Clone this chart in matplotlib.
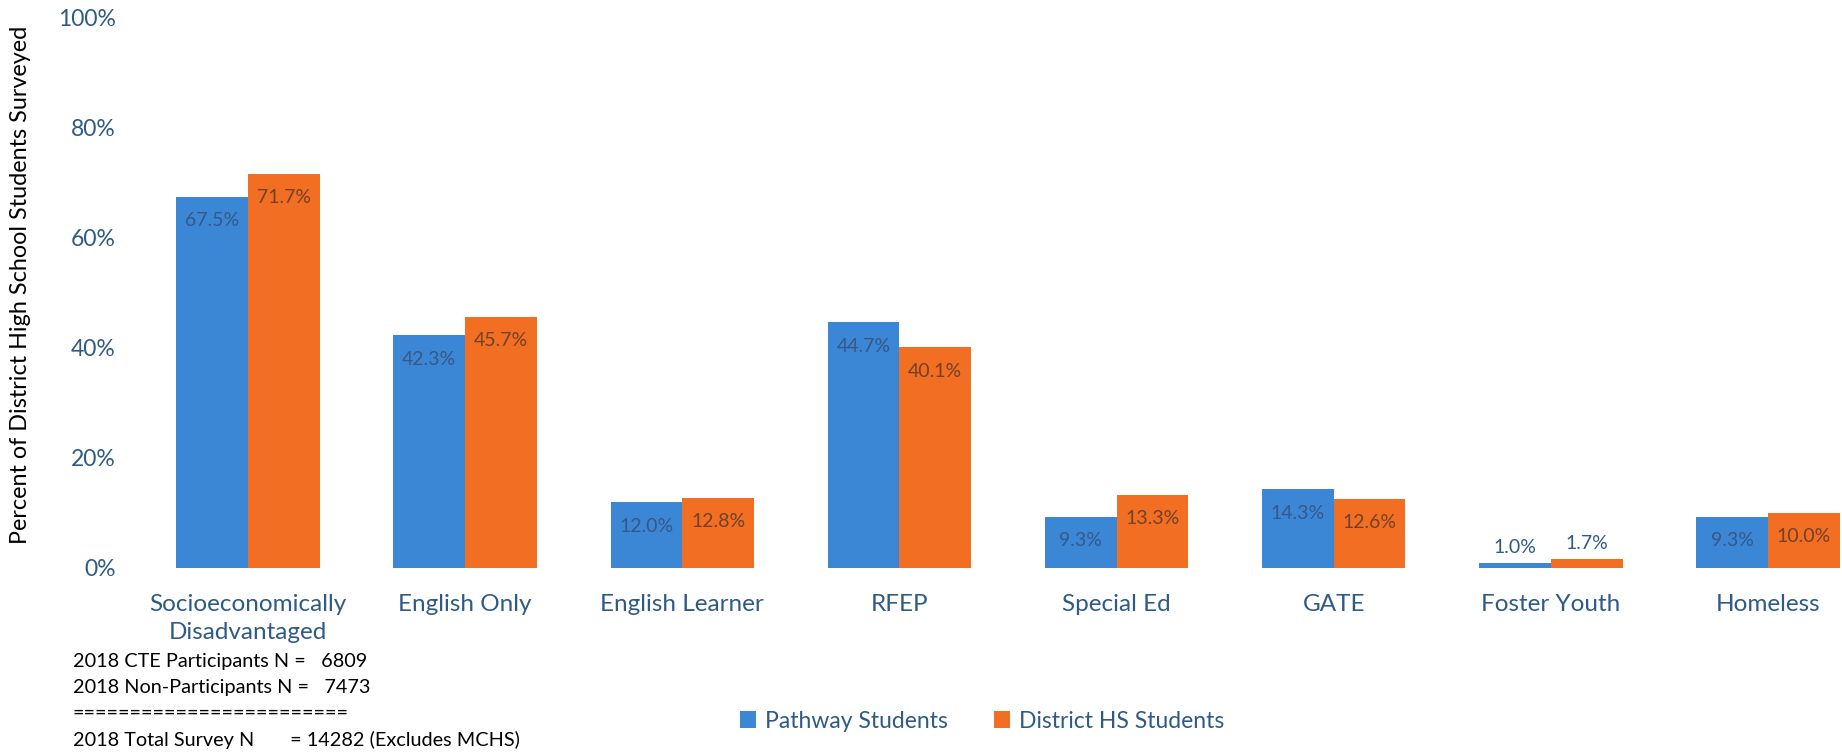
import matplotlib
matplotlib.use("Agg")
import matplotlib.pyplot as plt
import numpy as np

categories = ["Socioeconomically\nDisadvantaged", "English Only", "English Learner", "RFEP",
              "Special Ed", "GATE", "Foster Youth", "Homeless"]
pathway = [67.5, 42.3, 12.0, 44.7, 9.3, 14.3, 1.0, 9.3]
district = [71.7, 45.7, 12.8, 40.1, 13.3, 12.6, 1.7, 10.0]
series_names = ["Pathway Students", "District HS Students"]
yticks = [0, 20, 40, 60, 80, 100]
notes = ["2018 CTE Participants N =   6809",
         "2018 Non-Participants N =   7473",
         "========================",
         "2018 Total Survey N       = 14282 (Excludes MCHS)"]

plt.rcParams['font.family'] = ['Lato', 'DejaVu Sans']

BLUE = '#3C87D5'
ORANGE = '#F26E22'
TXT = '#2E5A87'

fig = plt.figure(figsize=(18.42, 7.52), dpi=100)
ax = fig.add_axes([139.4/1842, 1 - 568/752, 1 - 139.4/1842, 550/752])

x = np.arange(len(categories))
w = 0.33
b1 = ax.bar(x - w/2, pathway, w, color=BLUE, label=series_names[0])
b2 = ax.bar(x + w/2, district, w, color=ORANGE, label=series_names[1])

for bars, vals, tc in ((b1, pathway, '#34507A'), (b2, district, '#5C3A28')):
    for r, v in zip(bars, vals):
        cx = r.get_x() + r.get_width()/2
        if v < 5:
            ax.annotate(f"{v:.1f}%", (cx, v), xytext=(0, 15), textcoords='offset pixels',
                        ha='center', va='center', fontsize=14, color=TXT)
        else:
            ax.annotate(f"{v:.1f}%", (cx, v), xytext=(0, -24), textcoords='offset pixels',
                        ha='center', va='center', fontsize=14, color=tc, alpha=0.85)

ax.set_xlim(-0.5, 7 + (1842 - 1768)/217.14)
ax.set_ylim(0, 100)
ax.set_yticks(yticks)
ax.set_yticklabels([f"{t}%" for t in yticks], fontsize=16.5, color=TXT)
ax.set_xticks(x)
ax.set_xticklabels(categories, fontsize=17.5, color=TXT, linespacing=1.4)
ax.tick_params(axis='both', length=0)
ax.tick_params(axis='y', pad=17)
ax.tick_params(axis='x', pad=19)
for s in ax.spines.values():
    s.set_visible(False)

fig.text(21/1842, 1 - 284.5/752, "Percent of District High School Students Surveyed",
         rotation=90, ha='center', va='center', fontsize=16.8, color='black')

ys = [661, 687, 713, 740]
for t, yy in zip(notes, ys):
    fig.text(73/1842, 1 - yy/752, t, ha='left', va='center', fontsize=14.3, color='black')

leg = fig.legend(handles=[b1, b2], labels=series_names, loc='center', bbox_to_anchor=(982/1842, 1 - 721/752),
                 ncol=2, frameon=False, fontsize=16.5, handlelength=0.7, handleheight=0.7,
                 handletextpad=0.4, columnspacing=2.0)
for t in leg.get_texts():
    t.set_color(TXT)

fig.savefig("out.png", dpi=100)
